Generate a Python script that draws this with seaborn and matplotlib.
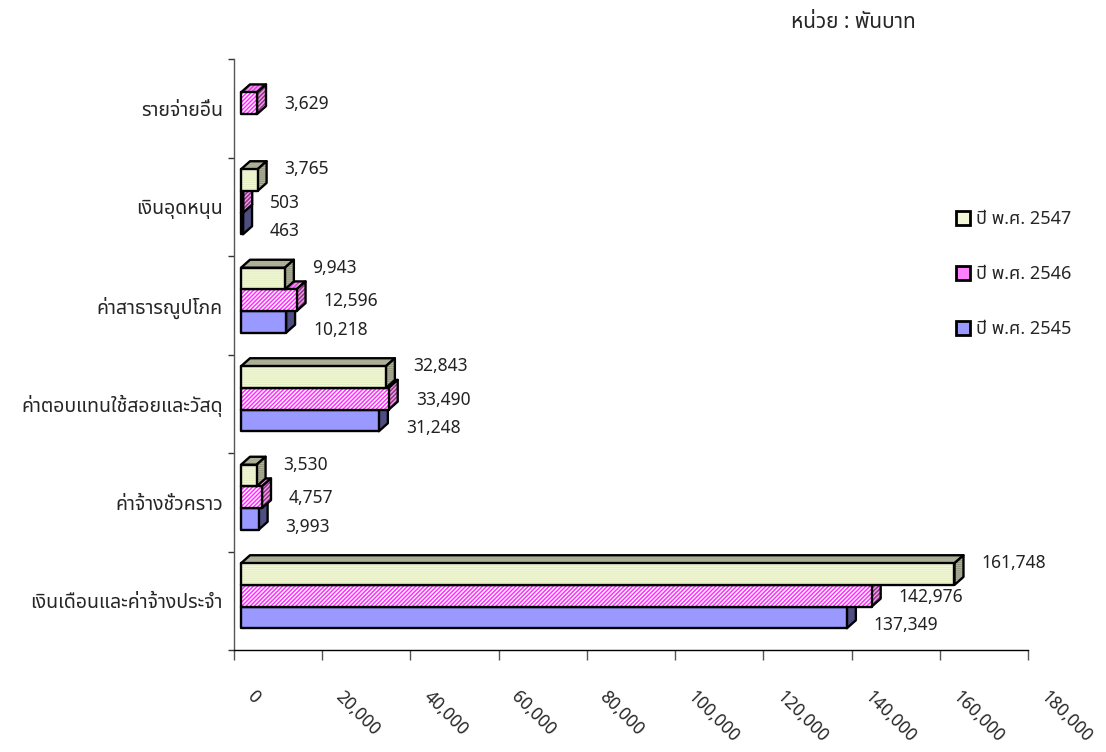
import matplotlib
matplotlib.use("Agg")
import matplotlib.pyplot as plt
import matplotlib.transforms as mtransforms
from matplotlib.patches import Polygon, Patch
import numpy as np
import pandas as pd
import seaborn as sns

# data (thousand baht)
categories = ["รายจ่ายอื่น", "เงินอุดหนุน", "ค่าสาธารณูปโภค",
              "ค่าตอบแทนใช้สอยและวัสดุ", "ค่าจ้างชั่วคราว", "เงินเดือนและค่าจ้างประจำ"]
years = ["ปี พ.ศ. 2547", "ปี พ.ศ. 2546", "ปี พ.ศ. 2545"]
v2547 = [np.nan, 3765, 9943, 32843, 3530, 161748]
v2546 = [3629, 503, 12596, 33490, 4757, 142976]
v2545 = [np.nan, 463, 10218, 31248, 3993, 137349]
x_ticks = [0, 20000, 40000, 60000, 80000, 100000, 120000, 140000, 160000, 180000]

df = pd.DataFrame({
    "category": categories * 3,
    "year": [years[0]] * 6 + [years[1]] * 6 + [years[2]] * 6,
    "value": v2547 + v2546 + v2545,
}).dropna()

# styles per year
front = {years[0]: "#FBFDE2", years[1]: "#FF30FF", years[2]: "#9999FF"}
front_hatch = {years[0]: ("--------", "#E4EDC4"), years[1]: ("////////", "#FFFFFF"), years[2]: None}
top_col = {years[0]: "#A9AA92", years[1]: "#E040E0", years[2]: "#7070B8"}
side_col = {years[0]: "#85866E", years[1]: "#9C2C92", years[2]: "#4E4E82"}
depth_hatch = {years[0]: ("--------", "#B0B19A"), years[1]: ("////////", "#E0A8DC"), years[2]: None}
legend_col = {years[0]: "#F4F8D8", years[1]: "#FF80FF", years[2]: "#9999FF"}
label_dy = {years[0]: 11, years[1]: -1, years[2]: -8}

FONT = ["Noto Sans Thai", "DejaVu Sans"]
sns.set_style("white")
plt.rcParams["font.family"] = FONT
plt.rcParams["hatch.linewidth"] = 1.0

DPI = 100
fig = plt.figure(figsize=(11.06, 7.52), dpi=DPI)
ax = fig.add_axes([234 / 1106, 1 - 650 / 752, (1028 - 234) / 1106, (650 - 59) / 752])

sns.barplot(data=df, y="category", x="value", hue="year", order=categories,
            hue_order=years, palette=front, orient="h", width=0.66,
            saturation=1, edgecolor="none", linewidth=0, legend=False, ax=ax)

ax.set_xlim(0, 180000)
ax.set_ylim(len(categories) - 0.5, -0.5)

# pixel offsets of the 3d look
px = lambda x, y: mtransforms.ScaledTranslation(x / DPI, y / DPI, fig.dpi_scale_trans)
shift = px(7, 5)
DX, DY = 9, 8
ident = mtransforms.IdentityTransform()


def add_face(poly, color, hatch, z):
    fig.patches.append(Polygon(poly, closed=True, facecolor=color, edgecolor="none",
                               transform=ident, zorder=z, figure=fig))
    if hatch:
        fig.patches.append(Polygon(poly, closed=True, fill=False, hatch=hatch[0],
                                   edgecolor=hatch[1], linewidth=0,
                                   transform=ident, zorder=z + 0.01, figure=fig))
    fig.patches.append(Polygon(poly, closed=True, fill=False, edgecolor="black",
                               linewidth=1.7, joinstyle="round",
                               transform=ident, zorder=z + 0.02, figure=fig))


for i, (cont, yr) in enumerate(zip(ax.containers, years)):
    z = 2 + (len(years) - i)
    for p in cont.patches:
        w = p.get_width()
        p.set_visible(False)
        if not np.isfinite(w):
            continue
        (ax0, ay0), (ax1, ay1) = (ax.transData + shift).transform(
            [(p.get_x(), p.get_y()), (p.get_x() + w, p.get_y() + p.get_height())])
        x0, x1 = min(ax0, ax1), max(ax0, ax1)
        yb, yt = min(ay0, ay1), max(ay0, ay1)
        add_face([(x0, yt), (x0 + DX, yt + DY), (x1 + DX, yt + DY), (x1, yt)],
                 top_col[yr], depth_hatch[yr], z + 0.1)
        add_face([(x1, yb), (x1, yt), (x1 + DX, yt + DY), (x1 + DX, yb + DY)],
                 side_col[yr], depth_hatch[yr], z + 0.2)
        add_face([(x0, yb), (x0, yt), (x1, yt), (x1, yb)],
                 p.get_facecolor(), front_hatch[yr], z + 0.3)
        ax.text(w, p.get_y() + p.get_height() / 2, f"{w:,.0f}",
                transform=ax.transData + px(7 + DX + 18, 5 + label_dy[yr]),
                ha="left", va="center", fontsize=12.5, color="#222222")

# axes look
for s in ("top", "right"):
    ax.spines[s].set_visible(False)
ax.spines["left"].set_color("#555555")
ax.spines["bottom"].set_color("black")
for s in ("left", "bottom"):
    ax.spines[s].set_linewidth(1.0)
ax.set_xlabel("")
ax.set_ylabel("")

bounds = np.arange(len(categories) + 1) - 0.5
ax.set_yticks(bounds)
ax.set_yticklabels([])
ax.set_yticks(range(len(categories)), minor=True)
ax.set_yticklabels(categories, minor=True, fontsize=14)
ax.tick_params(axis="y", which="major", left=True, length=4.5, width=1, color="#333333")
ax.tick_params(axis="y", which="minor", left=True, length=0, pad=8)

ax.set_xticks(x_ticks)
ax.set_xticklabels([f"{t:,}" for t in x_ticks], rotation=-45, ha="left", va="top",
                   rotation_mode="anchor", fontsize=12.5)
ax.tick_params(axis="x", bottom=True, length=7, width=1, color="#555555", pad=20)
for lab in ax.get_xticklabels():
    lab.set_transform(lab.get_transform() + px(22, 0))

handles = [Patch(facecolor=legend_col[y], edgecolor="black", linewidth=2, label=y) for y in years]
fig.legend(handles=handles, loc="upper left", bbox_to_anchor=(956 / 1106, 1 - 210 / 752),
           frameon=False, fontsize=13, labelspacing=2.05, handlelength=0.8,
           handleheight=0.8, handletextpad=0.3, borderpad=0, borderaxespad=0)

fig.text(853 / 1106, 1 - 22 / 752, "หน่วย : พันบาท", ha="center", va="center", fontsize=15)

fig.savefig("out.png", dpi=DPI)
